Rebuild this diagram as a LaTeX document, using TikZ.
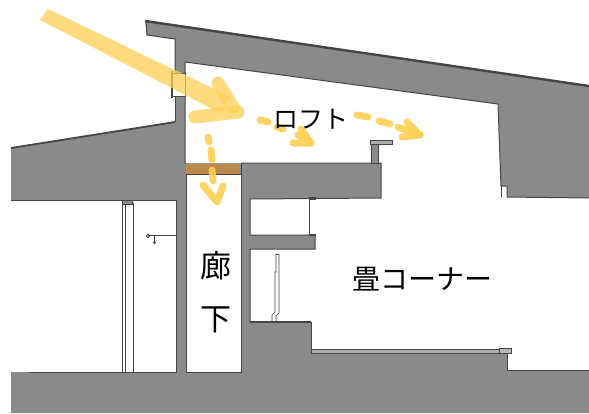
\documentclass[tikz,border=0pt]{standalone}
\usepackage{fontspec}
\newfontfamily\jpfont{Noto Sans CJK JP}
\usetikzlibrary{positioning}
\definecolor{wallgrey}{HTML}{8A8A8A}
\definecolor{inkgrey}{HTML}{454545}
\definecolor{sunny}{HTML}{FFD055}
\definecolor{beam}{HTML}{B98A4A}
\tikzset{
  wall/.style={fill=wallgrey,draw=none},
  room/.style={fill=white,draw=inkgrey,line width=1pt,line join=miter},
  ink/.style={draw=inkgrey,line width=1pt},
  ray/.style={fill=sunny,opacity=0.75},
  fatray/.style={draw=sunny,line width=13pt,line cap=round,opacity=0.75},
  dashray/.style={draw=sunny,line width=7pt,line cap=round,opacity=0.9},
  headray/.style={draw=sunny,line width=7pt,line cap=round,line join=round,opacity=0.9},
  jplabel/.style={font=\jpfont\fontsize{#1}{#1}\selectfont,text=black,inner sep=0pt}
}
\begin{document}
\begin{tikzpicture}[x=1pt,y=-1pt]
  \useasboundingbox (0,0) rectangle (589,413);
  \fill[white] (0,0) rectangle (589,413);

  %walls
  \fill[wall] (145,20) -- (589,86) -- (589,413) -- (11,413) -- (11,148) -- (175,122) -- (175,39) -- (147,35) -- cycle;
  \draw[inkgrey,line width=2.4pt] (145,21) -- (589,86);
  \draw[ink] (146,21) -- (147,35) -- (175,39) -- (175,72);
  \draw[inkgrey,line width=1.8pt] (11,148) -- (175,122);
  \draw[ink] (175,97) -- (175,122);

  %rooms
  \fill[white] (185,62) -- (498,104) -- (501,186) -- (507,186) -- (507,197) -- (589,198) -- (589,370) -- (507,370) -- (507,353) -- (311,353) -- (311,322) -- (250,322) -- (250,249) -- (315,249) -- (315,235) -- (250,235) -- (250,199) -- (381,198) -- (381,163) -- (185,163) -- cycle;
  \draw[ink] (589,198) -- (507,197) -- (507,186) -- (501,186) -- (498,104) -- (185,62) -- (185,164);
  \draw[ink] (501,186) -- (501,197);
  \draw[ink] (507,370) -- (589,370);
  \draw[ink] (507,353) -- (507,370);
  \draw[ink] (311,322) -- (311,350);
  \draw[inkgrey,line width=1.5pt] (250,322) -- (311,322);
  \draw[ink] (250,322) -- (250,249) -- (315,249) -- (315,235) -- (250,235) -- (250,199) -- (381,198) -- (381,163) -- (241,163);

  %corridor
  \draw[room] (186,174) rectangle (241,372);
  \fill[beam] (186,164) rectangle (240,174);
  \draw[ink] (241,163) -- (241,174);

  %left room
  \fill[white] (11,200) rectangle (176,372);
  \draw[ink] (11,200) -- (176,200) -- (176,372) -- (29,372);
  \foreach \x in {122,125,133}{
    \draw[inkgrey,line width=0.6pt] (\x,203) -- (\x,372);
  }
  \draw[ink,fill=wallgrey,line width=0.6pt] (122,200) rectangle (132,204);
  \draw[inkgrey,line width=1.6pt] (148,235.5) -- (176,235.5);
  \draw[inkgrey,line width=0.8pt] (148,236) circle[radius=1.8];
  \fill[inkgrey] (154.500,242.500) circle[radius=1.600];
  \draw[inkgrey,line width=0.7pt] (154.500,236) -- (154.500,242);

  %window
  \draw[ink,fill=white] (171,73) rectangle (185,96);
  \draw[inkgrey,line width=1.6pt] (172,71) -- (172,98);

  %loft rail
  \fill[wall] (371,144) rectangle (378,163);
  \draw[inkgrey,line width=0.7pt] (371,144) rectangle (378,163);
  \draw[inkgrey,line width=0.8pt,fill=wallgrey!70] (370,140.500) rectangle (392,144);

  %opening beside loft block
  \draw[inkgrey,line width=0.8pt] (309,199) -- (309,235);
  \fill[inkgrey] (309,197) rectangle (316,200);
  \fill[inkgrey] (309,233.500) rectangle (316,236);

  %panel in lower recess
  \draw[inkgrey,line width=0.6pt] (276,254) -- (276,272) -- (275,272) -- (275,312) -- (272,315) -- (272,322);
  \draw[inkgrey,line width=0.6pt] (279,254) -- (279,313) -- (276,316) -- (276,322);
  \draw[inkgrey,line width=0.6pt] (276,254) -- (279,254);
  \fill[inkgrey] (267,320.500) rectangle (273,322);

  %tatami
  \draw[inkgrey,line width=0.9pt,fill=wallgrey!70] (311,349.500) rectangle (499,353);
  \draw[inkgrey,line width=0.9pt,fill=wallgrey!60] (499,348) rectangle (511,353.500);

  %sun
  \fill[ray] (48,9) -- (229,96) -- (222,114) -- (40,20) -- cycle;
  \draw[fatray] (218,83) -- (233,107);
  \draw[fatray] (195,117) -- (238,112);

  %dashes
  \foreach \xa/\ya/\xb/\yb in {208/137/209/142,211/150/212/160,212/170/213/181,
                               260/120/268/122,277/127/283/129,
                               357/115/368/117,379/121/390/124}{
    \draw[dashray] (\xa,\ya) -- (\xb,\yb);
  }
  \draw[headray] (203,185) -- (217,202) -- (223,186);
  \draw[headray] (301,129) -- (311,143) -- (293,143);
  \draw[headray] (298,135) -- (311,143);
  \draw[headray] (398,127) -- (420,135);
  \draw[headray] (407,122) -- (420,135) -- (402,137);

  %labels
  \node[jplabel=25] (loft) at (311,119.500) {ロフト};
  \node[jplabel=31] (rokaA) at (216,266) {廊};
  \node[jplabel=31,below=26pt of rokaA] (rokaB) {下};
  \node[jplabel=28] (tatami) at (422.500,279) {畳コーナー};
\end{tikzpicture}
\end{document}
